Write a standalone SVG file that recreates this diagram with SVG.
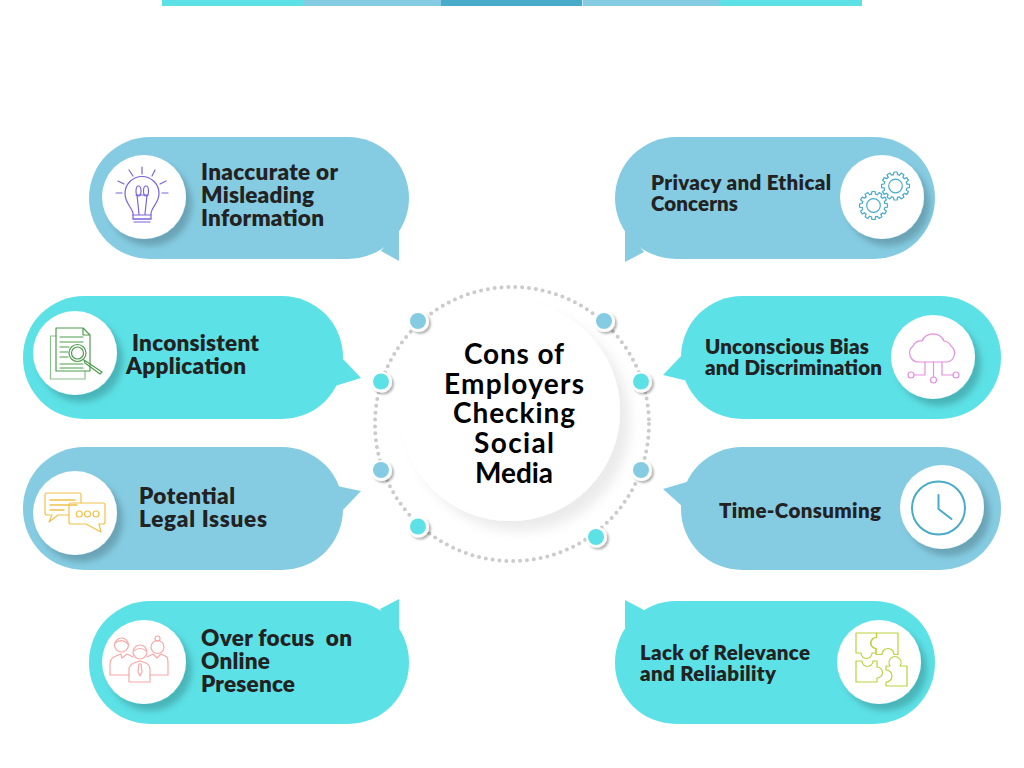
<svg xmlns="http://www.w3.org/2000/svg" width="1024" height="768" viewBox="0 0 1024 768">
<style>
text{font-family:"Lato","Noto Sans","Liberation Sans",sans-serif;font-weight:800;fill:#222}
.t1{font-size:22.5px}.t2{font-size:20.5px}
.c{font-size:28px;fill:#000;font-weight:700}
.cy{fill:#5ce1e6}.lb{fill:#85cce2}.db{fill:#48abc9}
.ic{fill:none;stroke-width:1.2;stroke-linecap:round;stroke-linejoin:round}
.disc{fill:#fff;filter:url(#sh)}
</style>
<defs>
<filter id="sh" x="-30%" y="-30%" width="170%" height="170%"><feDropShadow dx="6" dy="7" stdDeviation="3" flood-color="#000" flood-opacity=".2"/></filter>
<filter id="shc" x="-20%" y="-20%" width="150%" height="150%"><feDropShadow dx="10" dy="10" stdDeviation="6" flood-color="#000" flood-opacity=".08"/></filter>
<filter id="shd" x="-50%" y="-50%" width="220%" height="220%"><feDropShadow dx="2" dy="2" stdDeviation="1.200" flood-color="#000" flood-opacity=".3"/></filter>
<path id="tooth" d="M-2,-11.33 L-1.6,-14 H1.6 L2,-11.33 A11.5,11.5 0 0 1 3.93,-10.81"/>
<g id="gear"><use href="#tooth"/><use href="#tooth" transform="rotate(30)"/><use href="#tooth" transform="rotate(60)"/><use href="#tooth" transform="rotate(90)"/><use href="#tooth" transform="rotate(120)"/><use href="#tooth" transform="rotate(150)"/><use href="#tooth" transform="rotate(180)"/><use href="#tooth" transform="rotate(210)"/><use href="#tooth" transform="rotate(240)"/><use href="#tooth" transform="rotate(270)"/><use href="#tooth" transform="rotate(300)"/><use href="#tooth" transform="rotate(330)"/><circle r="6.800"/></g>
</defs>
<rect width="1024" height="768" fill="#fff"/>
<g id="top-bar">
<rect class="cy" x="162" y="0" width="141" height="6"/><rect class="lb" x="303" y="0" width="138" height="6"/><rect class="db" x="441" y="0" width="141" height="6"/><rect class="lb" x="582.500" y="0" width="137.500" height="6"/><rect class="cy" x="720" y="0" width="142" height="6"/>
</g>
<g id="connectors">
<circle cx="512" cy="424" r="137" fill="none" stroke="#cbcbcb" stroke-width="4" stroke-linecap="round" stroke-dasharray="0 6.900"/>
<g filter="url(#shd)" fill="#fff"><circle cx="418.500" cy="321.500" r="10.500"/><circle cx="604.500" cy="321.500" r="10.500"/><circle cx="381.500" cy="382" r="10.500"/><circle cx="641.500" cy="382" r="10.500"/><circle cx="381.500" cy="470.500" r="10.500"/><circle cx="641.500" cy="470.500" r="10.500"/><circle cx="418.500" cy="527" r="10.500"/><circle cx="596.500" cy="537" r="10.500"/></g>
<circle class="lb" cx="418" cy="321" r="8"/><circle class="lb" cx="604" cy="321" r="8"/><circle class="cy" cx="381" cy="381.500" r="8"/><circle class="cy" cx="641" cy="381.500" r="8"/><circle class="lb" cx="381" cy="470" r="8"/><circle class="lb" cx="641" cy="470" r="8"/><circle class="cy" cx="418" cy="526.500" r="8"/><circle class="cy" cx="596" cy="537" r="8"/>
</g>
<g id="center">
<circle cx="510" cy="411" r="110" fill="#fff" filter="url(#shc)"/>
<text class="c" x="464" y="363.500" textLength="100">Cons of</text><text class="c" x="444" y="393.500" textLength="140">Employers</text><text class="c" x="453" y="423" textLength="122">Checking</text><text class="c" x="474" y="453" textLength="80">Social</text><text class="c" x="475" y="483" textLength="78">Media</text>
</g>
<g id="node-inaccurate">
<rect class="lb" x="89" y="137" width="320" height="122" rx="61"/><polygon class="lb" points="399,228 399,261 381,251"/>
<circle class="disc" cx="144" cy="197" r="42"/>
<g class="ic" stroke="#7a63dc"><path d="M133,219 V213 C131,206 125,203 125,193.500 A17,17 0 0 1 159,193.500 C159,203 152,206 151,213 V219 Z"/><path d="M133,215 H151M133,219 H151M134,222 H150M136,195 H148M137,195 L139,214M147,195 L145,214"/><ellipse cx="138.500" cy="191" rx="2.500" ry="5"/><ellipse cx="146" cy="191" rx="2.500" ry="5"/><path d="M142,167 V174M129,170 L133,176M155,170 L152,176M118,181 L124,184M166,181 L160,184M116,193 H122M162,193 H168"/></g>
<text class="t1" x="201" y="179.500" textLength="137">Inaccurate or</text><text class="t1" x="201" y="202.500" textLength="113">Misleading</text><text class="t1" x="201" y="225.500" textLength="123">Information</text>
</g>
<g id="node-inconsistent">
<rect class="cy" x="23" y="296" width="320" height="123" rx="61"/><polygon class="cy" points="343,359 361,378 335,386"/>
<circle class="disc" cx="75" cy="353" r="42"/>
<g class="ic" stroke="#4f9d4f"><path d="M56,336 H50.500 V379 H85 V371" stroke="#8cc08c"/><path d="M56,328 H83 L90,335 V371 H56 Z M83,328 V335 H90"/><path d="M60,337 H83M60,342 H83M60,347 H69M60,352 H68M60,357 H68M60,364 H83M60,368 H83"/><circle cx="77.500" cy="353" r="8.500"/><circle cx="77.500" cy="353" r="6"/><path d="M84,360 L87,362 L102,372 L100,374 L85,363Z"/></g>
<text class="t1" x="132" y="350.500" textLength="127">Inconsistent</text><text class="t1" x="126" y="373.500" textLength="120">Application</text>
</g>
<g id="node-legal">
<rect class="lb" x="23" y="447" width="320" height="123" rx="61"/><polygon class="lb" points="337,486 361,491 342,511"/>
<circle class="disc" cx="75" cy="513" r="42"/>
<g class="ic" stroke="#f0c14b"><path d="M69,515 H58 L49,522 L52,515 H47 Q45,515 45,513 V495 Q45,493 47,493 H79 Q81,493 81,495 V503"/><path d="M71,503 H103 Q105,503 105,505 V522 Q105,524 103,524 H99 L101,532 L86,524 H71 Q69,524 69,522 V505 Q69,503 71,503Z"/><path d="M50,500 H75M50,505 H77M50,510 H64" stroke-width="1.500"/><circle cx="79.300" cy="514" r="3"/><circle cx="87.500" cy="514" r="3"/><circle cx="96" cy="514" r="3"/></g>
<text class="t1" x="139" y="503.500" textLength="96">Potential</text><text class="t1" x="139" y="526.500" textLength="128">Legal Issues</text>
</g>
<g id="node-overfocus">
<rect class="cy" x="89" y="601" width="320" height="123" rx="61"/><polygon class="cy" points="399,599 399,634 380,609"/>
<circle class="disc" cx="144" cy="662" r="42"/>
<g class="ic" stroke="#f9a8a8"><circle cx="121.500" cy="645" r="7"/><path d="M115,643 Q122,638 128,644"/><circle cx="140" cy="652" r="7"/><path d="M133.500,651 Q140,646 146.500,651"/><circle cx="157.500" cy="647" r="6.500"/><circle cx="157.500" cy="638.500" r="2.500"/><path d="M129,675 H110 V664 Q110,658 116,656 L121,654 L122,658 L127,654 L133,657"/><path d="M147,657 L153,654 L157,658 L161,654 L167,657 Q168,659 168,664 V675 H150"/><path d="M129,682 V670 Q129,665 134,663 L140,661 L146,663 Q150,665 150,670 V682 Z"/><path d="M139,664 L141,664 L142,672 L140,676 L138,672 Z"/></g>
<text class="t1" x="201" y="645.500" xml:space="preserve" textLength="151">Over focus  on</text><text class="t1" x="201" y="668.500" textLength="69">Online</text><text class="t1" x="201" y="691.500" textLength="94">Presence</text>
</g>
<g id="node-privacy">
<rect class="lb" x="615" y="137" width="320" height="122" rx="61"/><polygon class="lb" points="625,228 625,262 644,252"/>
<circle class="disc" cx="882" cy="197" r="42"/>
<g class="ic" stroke="#48abc9"><use href="#gear" transform="translate(895.500,186)"/><use href="#gear" transform="translate(873.500,205.500)"/></g>
<text class="t2" x="651" y="189.500" textLength="180">Privacy and Ethical</text><text class="t2" x="651" y="210.500" textLength="87">Concerns</text>
</g>
<g id="node-bias">
<rect class="cy" x="681" y="296" width="320" height="123" rx="61"/><polygon class="cy" points="683,354 663,375 688,381"/>
<circle class="disc" cx="933" cy="357" r="42"/>
<g class="ic" stroke="#e58fe0"><path d="M919,362 A9,9 0 0 1 913,346 A9,9 0 0 1 922,341 A12,12 0 0 1 944,341 A9,9 0 0 1 951,346 A9,9 0 0 1 947,362 Z"/><path d="M925,362 V375 H914M933.500,362 V377M942,362 V375 H953"/><circle cx="911" cy="375" r="3"/><circle cx="933.500" cy="380" r="3"/><circle cx="956" cy="375" r="3"/></g>
<text class="t2" x="705" y="353.500" textLength="164">Unconscious Bias</text><text class="t2" x="705" y="374.500" textLength="177">and Discrimination</text>
</g>
<g id="node-time">
<rect class="lb" x="681" y="447" width="320" height="123" rx="61"/><polygon class="lb" points="690,481 663,489 683,507"/>
<circle class="disc" cx="942" cy="507" r="42"/>
<g class="ic" stroke="#48abc9"><circle cx="938.500" cy="508" r="26.500" stroke-width="2"/><path d="M938.500,495 V509 L951.500,519" stroke-width="2"/></g>
<text class="t2" x="719" y="517.500" textLength="162">Time-Consuming</text>
</g>
<g id="node-relevance">
<rect class="cy" x="615" y="601" width="320" height="123" rx="61"/><polygon class="cy" points="625,600 625,634 644,610"/>
<circle class="disc" cx="879" cy="662" r="42"/>
<g class="ic" stroke="#bcd03c"><path d="M856,633 H876.500 V637.500 A5.500,5.500 0 0 0 876,648.500 V653 H872 A5.500,5.500 0 0 1 861,653 H856 Z"/><path d="M876.500,633 H898 V654.500 H894 A6,6 0 0 0 882,654.500 H876 V648.500 A5.500,5.500 0 0 1 876.500,637.500 Z"/><path d="M856,661 H862 A5.500,5.500 0 0 0 873,661 H877 V667 A5.500,5.500 0 0 1 877,678 V682 H856 Z"/><path d="M886,666 H890 A6,6 0 1 1 900,666 H907 V686 H886 V682 A6,6 0 0 0 886,670 Z"/></g>
<text class="t2" x="640" y="659.500" textLength="170">Lack of Relevance</text><text class="t2" x="640" y="680.500" textLength="136">and Reliability</text>
</g>
</svg>
